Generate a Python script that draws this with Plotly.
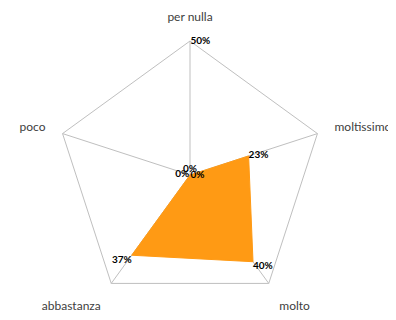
import plotly.graph_objects as go

categories = ["per nulla", "moltissimo", "molto", "abbastanza", "poco"]
values = [0.0, 0.23, 0.40, 0.37, 0.0]
value_labels = ["0%", "23%", "40%", "37%", "0%"]
label_positions = ["top center", "middle right", "bottom right", "bottom left", "middle left"]
radial_ticks = [0, 0.5]
radial_ticktext = ["0%", "50%"]

# plotly hides text anchored exactly at the centre of a polygonal polar grid,
# so zero-valued labels are anchored a hair's breadth out along their spoke
label_r = [max(v, 0.003) for v in values]

fig = go.Figure()
fig.add_trace(go.Scatterpolar(
    r=values + [values[0]],
    theta=categories + [categories[0]],
    mode="lines",
    fill="toself",
    fillcolor="#FF9A14",
    line=dict(color="#FF9A14", width=1),
    hoverinfo="skip",
    showlegend=False,
))
fig.add_trace(go.Scatterpolar(
    r=label_r,
    theta=categories,
    mode="text",
    text=value_labels,
    textposition=label_positions,
    cliponaxis=False,
    textfont=dict(family="Lato, sans-serif", size=10, color="#000000", weight="bold"),
    showlegend=False,
))

fig.update_layout(
    width=396, height=320,
    margin=dict(l=48, r=80, t=33, b=19),
    paper_bgcolor="white",
    plot_bgcolor="white",
    font=dict(family="Lato, sans-serif", size=12, color="#404040"),
    polar=dict(
        bgcolor="white",
        gridshape="linear",
        angularaxis=dict(
            rotation=90,
            direction="clockwise",
            showgrid=True,
            gridcolor="#BFBFBF",
            gridwidth=1,
            showline=True,
            linecolor="#BFBFBF",
            linewidth=1,
            ticks="outside",
            ticklen=15,
            tickcolor="rgba(0,0,0,0)",
            tickfont=dict(size=12, color="#404040"),
        ),
        radialaxis=dict(
            range=[0, 0.5],
            angle=90,
            tickangle=90,
            showgrid=False,
            showline=False,
            ticks="",
            tickvals=radial_ticks,
            ticktext=radial_ticktext,
            tickfont=dict(size=10, color="#000000", weight="bold"),
        ),
    ),
)

fig.write_html("out.html")
